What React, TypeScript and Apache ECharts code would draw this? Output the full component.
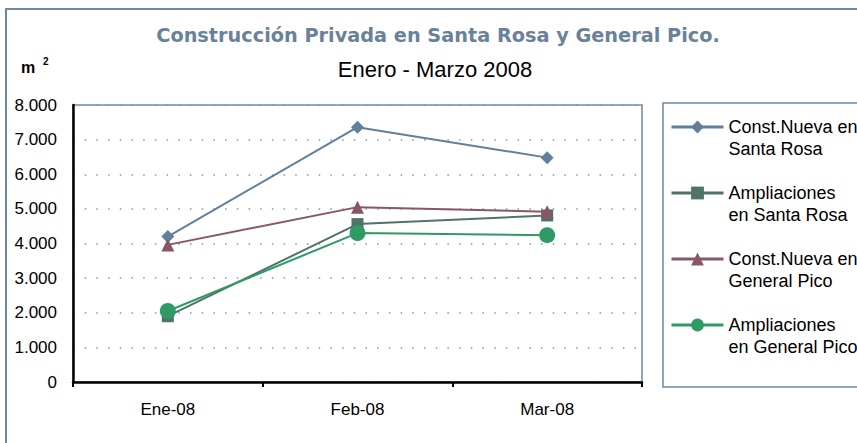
import React, { useEffect, useRef } from "react";
import * as echarts from "echarts";

const categories = ["Ene-08", "Feb-08", "Mar-08"];
const seriesNames = [
  "Const.Nueva en\nSanta Rosa",
  "Ampliaciones\nen Santa Rosa",
  "Const.Nueva en\nGeneral Pico",
  "Ampliaciones\nen General Pico",
];
const constNuevaSantaRosa = [4200, 7360, 6480];
const ampliacionesSantaRosa = [1900, 4560, 4810];
const constNuevaGeneralPico = [3960, 5050, 4920];
const ampliacionesGeneralPico = [2050, 4300, 4240];
const yTicks = [0, 1000, 2000, 3000, 4000, 5000, 6000, 7000, 8000];

const colors = ["#5f7f9b", "#4f7464", "#8b5568", "#2f9a63"];
const symbols = ["diamond", "rect", "triangle", "circle"];
const symbolSizes = [13, 12, 13, 16];
const FONT = "Liberation Sans";

export default function App() {
  const ref = useRef<HTMLDivElement>(null);
  useEffect(() => {
    if (!ref.current) return;
    const chart = echarts.init(ref.current, null, { renderer: "svg" });
    const data = [constNuevaSantaRosa, ampliacionesSantaRosa, constNuevaGeneralPico, ampliacionesGeneralPico];
    chart.setOption({
      animation: false,
      backgroundColor: "#ffffff",
      title: [
        {
          text: "Construcción Privada en Santa Rosa y General Pico.",
          left: 433,
          top: 21,
          textAlign: "center",
          textStyle: { fontFamily: "DejaVu Sans", fontSize: 19.3, fontWeight: "bold", color: "#6a8299" },
        },
        {
          text: "Enero - Marzo 2008",
          left: 430,
          top: 53,
          textAlign: "center",
          textStyle: { fontFamily: FONT, fontSize: 22, fontWeight: "normal", color: "#000" },
        },
      ],
      graphic: [
        {
          type: "rect",
          shape: { x: 6, y: 9, width: 900, height: 460 },
          style: { fill: "none", stroke: "#6c89a3", lineWidth: 2 },
          silent: true,
        },
        {
          type: "rect",
          shape: { x: 663, y: 103, width: 220, height: 284 },
          style: { fill: "none", stroke: "#6c89a3", lineWidth: 1.5 },
          silent: true,
        },
        {
          type: "text",
          x: 21,
          y: 59,
          style: { text: "m", font: "bold 16px 'Liberation Sans'", fill: "#000" },
        },
        {
          type: "text",
          x: 43,
          y: 56,
          style: { text: "2", font: "bold 10px 'Liberation Sans'", fill: "#000" },
        },
      ],
      legend: {
        orient: "vertical",
        left: 670,
        top: 94,
        padding: 0,
        itemGap: 0,
        itemWidth: 52,
        itemHeight: 16,
        lineStyle: { width: 3 },
        data: seriesNames,
        formatter: (name: string) => "\n" + name,
        textStyle: {
          fontFamily: FONT,
          fontSize: 18,
          color: "#000",
          lineHeight: 22,
        },
      },
      grid: {
        left: 73,
        right: 215,
        top: 105,
        bottom: 61,
        show: true,
        borderColor: "#6f8ba5",
        borderWidth: 1.5,
        backgroundColor: "transparent",
      },
      xAxis: {
        type: "category",
        data: categories,
        boundaryGap: true,
        axisLine: { lineStyle: { color: "#000", width: 2.5 } },
        axisTick: { show: true, length: 5, lineStyle: { color: "#000", width: 2 } },
        axisLabel: { fontFamily: FONT, fontSize: 17, color: "#000", margin: 19 },
        splitLine: { show: false },
      },
      yAxis: {
        type: "value",
        min: 0,
        max: 8000,
        interval: 1000,
        axisLine: { show: true, lineStyle: { color: "#000", width: 2.5 } },
        axisTick: { show: false },
        axisLabel: {
          fontFamily: FONT,
          fontSize: 17,
          color: "#000",
          margin: 16,
          formatter: (v: number) => (yTicks.includes(v) ? v.toLocaleString("de-DE") : ""),
        },
        splitLine: { show: true, lineStyle: { color: "#7f97ad", width: 1.5, type: [1.5, 10.2] } },
      },
      series: data.map((d, i) => ({
        name: seriesNames[i],
        type: "line",
        data: d,
        symbol: symbols[i],
        symbolSize: symbolSizes[i],
        showAllSymbol: true,
        color: colors[i],
        lineStyle: { color: colors[i], width: 2 },
        itemStyle: { color: colors[i] },
        z: 2 + i,
      })),
    });
    return () => chart.dispose();
  }, []);
  return (
    <div
      ref={ref}
      style={{ position: "fixed", left: 0, top: 0, width: 857, height: 443 }}
    />
  );
}
